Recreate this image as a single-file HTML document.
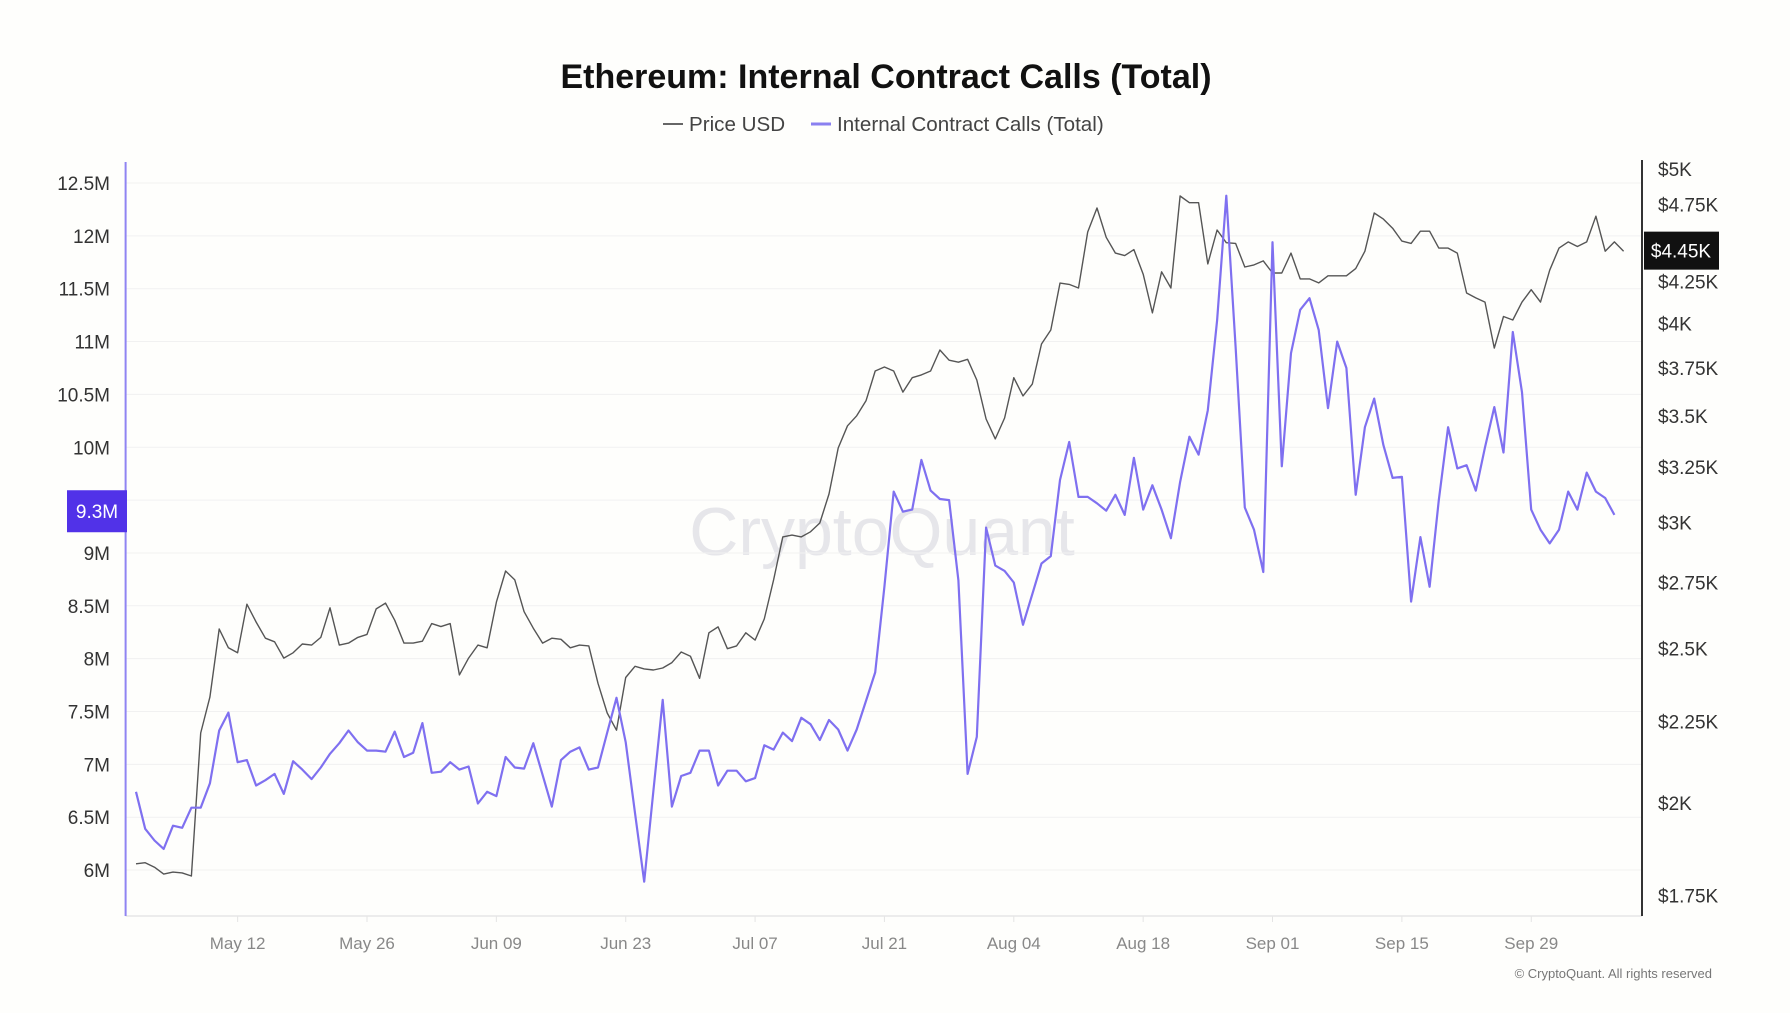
<!DOCTYPE html>
<html><head><meta charset="utf-8">
<style>
html,body{margin:0;padding:0;background:#fefefc;}
body{width:1790px;height:1008px;overflow:hidden;font-family:"Liberation Sans",sans-serif;}
svg text{font-family:"Liberation Sans",sans-serif;}
</style></head>
<body>
<svg id="chart" width="1790" height="1008" viewBox="0 0 1790 1008" xmlns="http://www.w3.org/2000/svg">
<rect width="1790" height="1008" fill="#fefefc"/>
<text x="886" y="88" text-anchor="middle" font-size="34" font-weight="bold" fill="#111">Ethereum: Internal Contract Calls (Total)</text>
<g>
 <g>
  <line x1="663" y1="124" x2="683" y2="124" stroke="#666" stroke-width="2"/>
  <text x="689" y="131" font-size="20.6" fill="#444">Price USD</text>
 </g>
 <g>
  <line x1="811" y1="124" x2="831" y2="124" stroke="#8a80f0" stroke-width="3"/>
  <text x="837" y="131" font-size="20.6" fill="#444">Internal Contract Calls (Total)</text>
 </g>
</g>
<text x="882" y="555" text-anchor="middle" font-size="68" fill="#e6e6ea">CryptoQuant</text>
<g id="grid"></g>
<g id="axes"></g>
<g id="series"></g>
<g id="badges"></g>
<text x="1712" y="978" text-anchor="end" font-size="13" fill="#777">© CryptoQuant. All rights reserved</text>
</svg>
<script>
const startDate = "2024-05-01";
const xTickLabels = ["May 12","May 26","Jun 09","Jun 23","Jul 07","Jul 21","Aug 04","Aug 18","Sep 01","Sep 15","Sep 29"];
const xTickDays = [11,25,39,53,67,81,95,109,123,137,151];
const leftTicks = [6,6.5,7,7.5,8,8.5,9,9.5,10,10.5,11,11.5,12,12.5];
const leftTickLabels = ["6M","6.5M","7M","7.5M","8M","8.5M","9M","9.5M","10M","10.5M","11M","11.5M","12M","12.5M"];
const rightTicks = [1750,2000,2250,2500,2750,3000,3250,3500,3750,4000,4250,4750,5000];
const rightTickLabels = ["$1.75K","$2K","$2.25K","$2.5K","$2.75K","$3K","$3.25K","$3.5K","$3.75K","$4K","$4.25K","$4.75K","$5K"];
const callsValues = [6.74,6.39,6.28,6.20,6.42,6.40,6.59,6.59,6.82,7.32,7.49,7.02,7.04,6.80,6.85,6.91,6.72,7.03,6.95,6.86,6.97,7.10,7.20,7.32,7.21,7.13,7.13,7.12,7.31,7.07,7.11,7.39,6.92,6.93,7.02,6.95,6.98,6.63,6.74,6.70,7.07,6.97,6.96,7.20,6.90,6.60,7.04,7.12,7.16,6.95,6.97,7.30,7.63,7.21,6.54,5.89,6.75,7.61,6.60,6.89,6.92,7.13,7.13,6.80,6.94,6.94,6.84,6.87,7.18,7.14,7.30,7.22,7.44,7.38,7.23,7.42,7.33,7.13,7.33,7.60,7.87,8.68,9.58,9.39,9.41,9.88,9.59,9.51,9.50,8.74,6.91,7.26,9.24,8.88,8.83,8.72,8.32,8.61,8.90,8.97,9.69,10.05,9.53,9.53,9.47,9.40,9.55,9.36,9.90,9.41,9.64,9.41,9.14,9.67,10.10,9.93,10.35,11.20,12.38,10.95,9.43,9.22,8.82,11.94,9.82,10.89,11.30,11.41,11.11,10.37,11.00,10.75,9.55,10.19,10.46,10.02,9.71,9.72,8.54,9.15,8.68,9.50,10.19,9.80,9.83,9.59,10.00,10.38,9.95,11.09,10.52,9.41,9.22,9.09,9.22,9.58,9.41,9.76,9.58,9.52,9.36];
const priceValues = [1832,1835,1823,1805,1810,1808,1800,2213,2331,2572,2503,2485,2666,2598,2538,2525,2466,2485,2517,2513,2541,2652,2513,2520,2541,2552,2648,2670,2605,2520,2520,2527,2592,2581,2592,2407,2466,2513,2503,2674,2797,2761,2637,2575,2520,2538,2534,2503,2513,2510,2378,2278,2222,2398,2437,2428,2424,2431,2450,2488,2473,2395,2558,2580,2500,2510,2558,2531,2610,2761,2938,2946,2938,2960,2998,3126,3341,3450,3500,3577,3734,3756,3734,3622,3698,3713,3734,3849,3793,3782,3798,3686,3484,3385,3489,3698,3602,3664,3883,3962,4240,4232,4210,4565,4726,4530,4428,4412,4450,4295,4061,4310,4210,4809,4762,4762,4359,4578,4495,4490,4340,4353,4378,4302,4302,4428,4266,4266,4241,4285,4285,4285,4330,4440,4692,4651,4590,4505,4490,4570,4570,4460,4460,4428,4180,4150,4125,3860,4040,4020,4125,4200,4125,4320,4460,4500,4470,4500,4670,4440,4500,4440];
const currentCalls = 9.3;
const currentPrice = 4450;

const NS = "http://www.w3.org/2000/svg";
const X0 = 136, DX = 9.24;
const PL = 125.6, PR = 1642, PT = 160, PB = 916;
function xScale(d){ return X0 + d*DX; }
function yLeft(v){ return 183 + (12.5 - v)*105.7; }
function yRight(p){ return 169 + 692*Math.log(5000/p); }
function mk(tag, attrs, parent){ const e=document.createElementNS(NS,tag); for(const k in attrs) e.setAttribute(k,attrs[k]); parent.appendChild(e); return e; }

const grid = document.getElementById('grid');
const axes = document.getElementById('axes');
const series = document.getElementById('series');
const badges = document.getElementById('badges');

leftTicks.forEach((v,i)=>{
  const y=yLeft(v);
  const g=mk('line',{x1:PL,x2:PR,y1:y,y2:y,stroke:'#f1f1f1','stroke-width':1},grid);
  
  
  const t=mk('text',{x:110,y:y+7,'text-anchor':'end','font-size':19,fill:'#333'},axes);
  t.textContent=leftTickLabels[i];
  
  
});
rightTicks.forEach((v,i)=>{
  const y=yRight(v);
  const t=mk('text',{x:1658,y:y+7,'font-size':19,fill:'#333'},axes);
  t.textContent=rightTickLabels[i];
  
  
});
xTickDays.forEach((d,i)=>{
  const x=xScale(d);
  const tk=mk('line',{x1:x,x2:x,y1:PB,y2:PB+6,stroke:'#e4e4e4','stroke-width':1},axes);
  
  
  const t=mk('text',{x:x,y:949,'text-anchor':'middle','font-size':17,fill:'#888'},axes);
  t.textContent=xTickLabels[i];
  
  
});
const base=mk('line',{x1:PL,x2:PR,y1:PB,y2:PB,stroke:'#e6e6e6','stroke-width':1.5},axes);


const la=mk('line',{x1:PL,x2:PL,y1:162,y2:PB,stroke:'#8f84f2','stroke-width':2},axes);


const ra=mk('line',{x1:PR,x2:PR,y1:160,y2:PB,stroke:'#333','stroke-width':2},axes);



const pPts=priceValues.map((v,i)=>xScale(i).toFixed(1)+','+yRight(v).toFixed(1)).join(' ');
const pl=mk('polyline',{points:pPts,fill:'none',stroke:'#555','stroke-width':1.4,'stroke-linejoin':'round'},series);


const cPts=callsValues.map((v,i)=>xScale(i).toFixed(1)+','+yLeft(v).toFixed(1)).join(' ');
const cl=mk('polyline',{points:cPts,fill:'none',stroke:'#7f70f0','stroke-width':2.2,'stroke-linejoin':'round'},series);



const cy=yLeft(currentCalls)-10;
const b1=mk('rect',{x:67,y:cy-21,width:60,height:42,fill:'#5132e8'},badges);


const b1t=mk('text',{x:97,y:cy+7,'text-anchor':'middle','font-size':19,fill:'#fff'},badges);
b1t.textContent='9.3M';


const py=yRight(currentPrice);
const b2=mk('rect',{x:1644,y:py-18,width:75,height:38,fill:'#111'},badges);


const b2t=mk('text',{x:1681,y:py+8,'text-anchor':'middle','font-size':19,fill:'#fff'},badges);
b2t.textContent='$4.45K';


</script>
</body></html>
